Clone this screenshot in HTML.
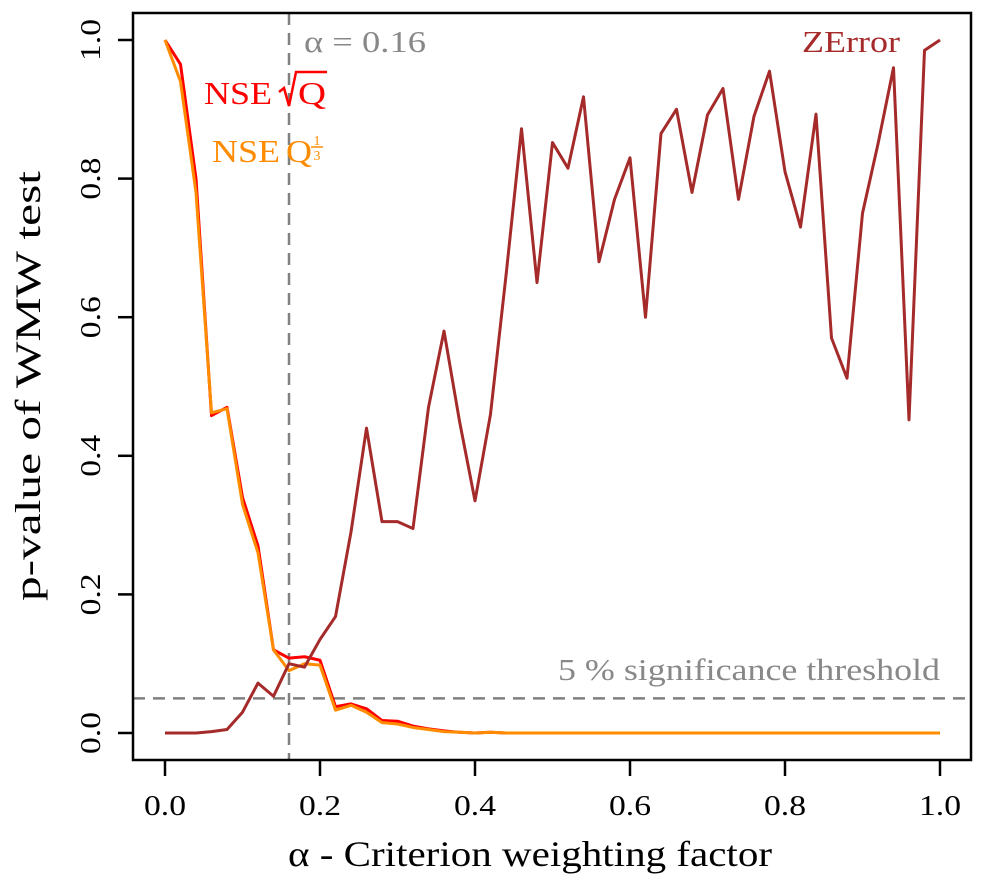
<!DOCTYPE html>
<html><head><meta charset="utf-8"><style>
body{margin:0;background:#fff;}
svg, svg text{font-family:"Liberation Serif","Times New Roman",Times,serif;}
svg{display:block;}
</style></head><body>
<svg id="chart" width="985" height="887" viewBox="0 0 985 887" xmlns="http://www.w3.org/2000/svg" font-family="Liberation Serif, Times New Roman, serif">
<g id="marks"></g>
<rect x="133" y="13" width="838" height="747" fill="none" stroke="#000" stroke-width="2.5"/>
<g id="axes"></g>
<text x="530" y="866" font-size="36" text-anchor="middle" textLength="484" lengthAdjust="spacingAndGlyphs">α - Criterion weighting factor</text>
<text transform="translate(40,386) rotate(-90)" font-size="36" text-anchor="middle" textLength="430" lengthAdjust="spacingAndGlyphs">p-value of WMW test</text>
<text x="304" y="52" font-size="31" fill="#888" textLength="122" lengthAdjust="spacingAndGlyphs">α = 0.16</text>
<text x="940" y="680" font-size="31" fill="#888" text-anchor="end" textLength="382" lengthAdjust="spacingAndGlyphs">5 % significance threshold</text>
<text x="900" y="52" font-size="31" fill="#a52a2a" text-anchor="end" textLength="98" lengthAdjust="spacingAndGlyphs">ZError</text>
<g fill="#ff0000">
<text x="204" y="104" font-size="32" textLength="68" lengthAdjust="spacingAndGlyphs">NSE</text>
<path d="M279 92 L284 88 L289 106 L296 72 L327 72" fill="none" stroke="#ff0000" stroke-width="2.5"/>
<text x="298" y="104" font-size="32" textLength="28" lengthAdjust="spacingAndGlyphs">Q</text>
</g>
<g fill="#ff8c00">
<text x="212" y="162" font-size="32" textLength="68" lengthAdjust="spacingAndGlyphs">NSE</text>
<text x="286" y="162" font-size="32" textLength="26" lengthAdjust="spacingAndGlyphs">Q</text>
<text x="317" y="145" font-size="14" text-anchor="middle">1</text>
<line x1="311" y1="147" x2="323" y2="147" stroke="#ff8c00" stroke-width="1.5"/>
<text x="317" y="160" font-size="14" text-anchor="middle">3</text>
</g>
</svg>
<script>
const alphas = [0,0.02,0.04,0.06,0.08,0.10,0.12,0.14,0.16,0.18,0.20,0.22,0.24,0.26,0.28,0.30,0.32,0.34,0.36,0.38,0.40,0.42,0.44,0.46,0.48,0.50,0.52,0.54,0.56,0.58,0.60,0.62,0.64,0.66,0.68,0.70,0.72,0.74,0.76,0.78,0.80,0.82,0.84,0.86,0.88,0.90,0.92,0.94,0.96,0.98,1.0];
const zerror = [0,0,0,0.002,0.005,0.03,0.072,0.053,0.1,0.095,0.135,0.168,0.29,0.44,0.305,0.305,0.295,0.47,0.58,0.45,0.335,0.46,0.66,0.872,0.65,0.852,0.815,0.918,0.68,0.77,0.83,0.6,0.865,0.9,0.78,0.892,0.93,0.77,0.89,0.955,0.81,0.73,0.893,0.57,0.512,0.75,0.85,0.96,0.452,0.985,1.0];
const nseSqrt = [1.0,0.965,0.8,0.458,0.47,0.34,0.27,0.12,0.108,0.11,0.105,0.038,0.042,0.035,0.018,0.017,0.01,0.006,0.003,0.001,0,0.001,0,0,0,0,0,0,0,0,0,0,0,0,0,0,0,0,0,0,0,0,0,0,0,0,0,0,0,0,0];
const nseCube = [1.0,0.94,0.78,0.462,0.468,0.33,0.26,0.12,0.09,0.1,0.098,0.033,0.04,0.03,0.015,0.013,0.008,0.005,0.002,0.001,0,0.001,0,0,0,0,0,0,0,0,0,0,0,0,0,0,0,0,0,0,0,0,0,0,0,0,0,0,0,0,0];
const xTicks = [0,0.2,0.4,0.6,0.8,1.0];
const xTickLabels = ["0.0","0.2","0.4","0.6","0.8","1.0"];
const yTicks = [0,0.2,0.4,0.6,0.8,1.0];
const yTickLabels = ["0.0","0.2","0.4","0.6","0.8","1.0"];
const alphaLine = 0.16;
const threshold = 0.05;

const NS='http://www.w3.org/2000/svg';
const xs = a => 165 + a*775;
const ys = p => 733 - p*693;
const marks = document.getElementById('marks');
const axes = document.getElementById('axes');
function mk(tag, parent){const e=document.createElementNS(NS,tag);parent.appendChild(e);return e;}

let l = mk('line', marks);


l.setAttribute('x1',133);l.setAttribute('x2',971);l.setAttribute('y1',ys(threshold));l.setAttribute('y2',ys(threshold));
l.setAttribute('stroke','#808080');l.setAttribute('stroke-width','2.5');l.setAttribute('stroke-dasharray','12 8');
l = mk('line', marks);


l.setAttribute('x1',xs(alphaLine));l.setAttribute('x2',xs(alphaLine));l.setAttribute('y1',13);l.setAttribute('y2',760);
l.setAttribute('stroke','#808080');l.setAttribute('stroke-width','2.5');l.setAttribute('stroke-dasharray','12 8');

function series(vals, color, name){
  const p = mk('polyline', marks);
  
  
  p.setAttribute('points', vals.map((v,i)=>xs(alphas[i])+','+ys(v)).join(' '));
  p.setAttribute('fill','none');p.setAttribute('stroke',color);p.setAttribute('stroke-width','3');p.setAttribute('stroke-linejoin','round');
}
series(nseSqrt,'#ff0000','series-nse-sqrt');
series(nseCube,'#ff8c00','series-nse-cuberoot');
series(zerror,'#a52a2a','series-zerror');

xTicks.forEach((v,i)=>{
  const t=mk('line',axes);
  
  
  t.setAttribute('x1',xs(v));t.setAttribute('x2',xs(v));t.setAttribute('y1',760);t.setAttribute('y2',776);
  t.setAttribute('stroke','#000');t.setAttribute('stroke-width','2.5');
  const tx=mk('text',axes);
  
  
  tx.setAttribute('x',xs(v));tx.setAttribute('y',815);tx.setAttribute('font-size','28');tx.setAttribute('text-anchor','middle');
  tx.setAttribute('textLength','42');tx.setAttribute('lengthAdjust','spacingAndGlyphs');
  tx.textContent=xTickLabels[i];
});
yTicks.forEach((v,i)=>{
  const t=mk('line',axes);
  
  
  t.setAttribute('x1',118);t.setAttribute('x2',133);t.setAttribute('y1',ys(v));t.setAttribute('y2',ys(v));
  t.setAttribute('stroke','#000');t.setAttribute('stroke-width','2.5');
  const tx=mk('text',axes);
  
  
  tx.setAttribute('transform','translate(100,'+ys(v)+') rotate(-90)');
  tx.setAttribute('font-size','28');tx.setAttribute('text-anchor','middle');
  tx.setAttribute('textLength','42');tx.setAttribute('lengthAdjust','spacingAndGlyphs');
  tx.textContent=yTickLabels[i];
});
</script>
</body></html>
